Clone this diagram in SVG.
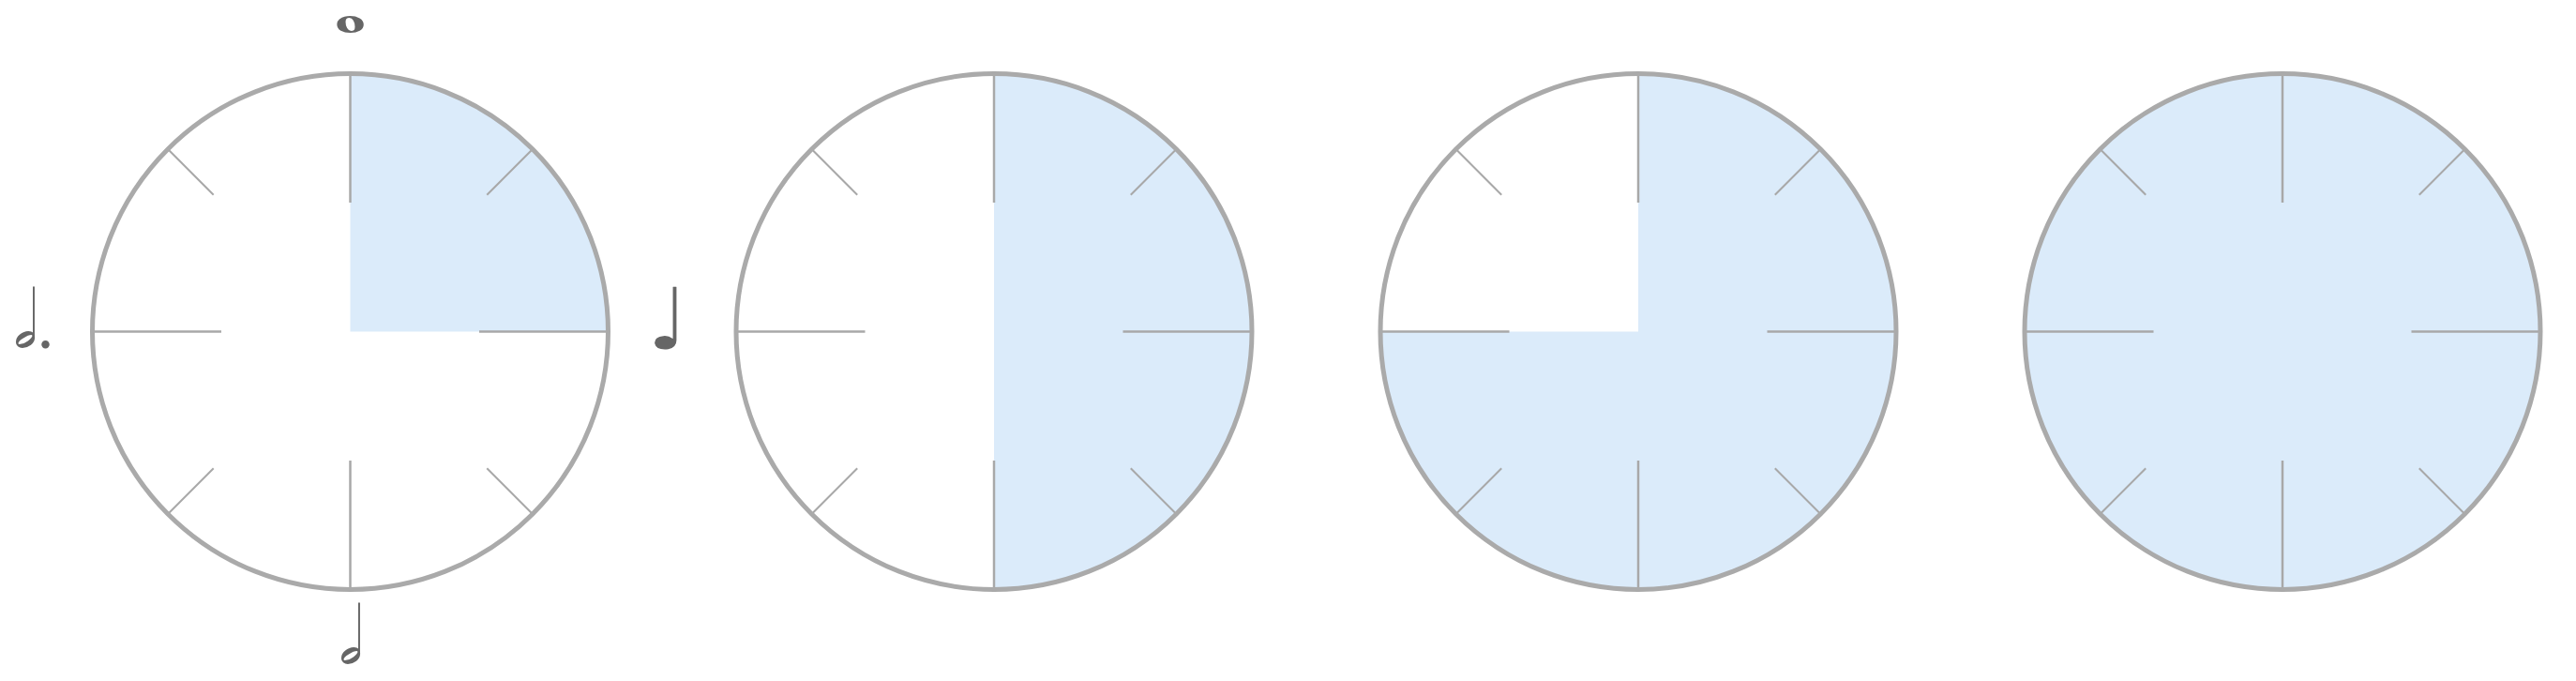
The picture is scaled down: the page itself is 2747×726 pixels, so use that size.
<svg xmlns="http://www.w3.org/2000/svg" xmlns:xlink="http://www.w3.org/1999/xlink" width="2747" height="726" viewBox="0 0 2747 726">
  <style>
    .fill { fill: #DBEBFA; stroke: none; }
    .tick { stroke: #A8A8A8; stroke-width: 2.5; fill: none; }
    .diag { stroke: #A8A8A8; stroke-width: 2; fill: none; }
    .ring { stroke: #AAAAAA; stroke-width: 5; fill: none; }
    .note { fill: #666666; font-family: "DejaVu Sans", "Noto Sans", sans-serif; text-anchor: middle; }
    .dot { font-family: "Liberation Serif", "DejaVu Serif", serif; }
  </style>
  <defs>
    <g id="ticks">
      <line class="tick" x1="0" y1="-275" x2="0" y2="-137.5"/>
      <line class="tick" x1="0" y1="137.5" x2="0" y2="275"/>
      <line class="tick" x1="-275" y1="0" x2="-137.5" y2="0"/>
      <line class="tick" x1="137.5" y1="0" x2="275" y2="0"/>
      <line class="diag" x1="-194.45" y1="-194.45" x2="-145.8" y2="-145.8"/>
      <line class="diag" x1="194.45" y1="-194.45" x2="145.8" y2="-145.8"/>
      <line class="diag" x1="-194.45" y1="194.45" x2="-145.8" y2="145.8"/>
      <line class="diag" x1="194.45" y1="194.45" x2="145.8" y2="145.8"/>
    </g>
    <circle id="ring" class="ring" cx="0" cy="0" r="275"/>
  </defs>

  <g id="clock1" transform="translate(373.5,353.5)">
    <path class="fill" d="M0,0 L0,-275 A275,275 0 0 1 275,0 Z"/>
    <use xlink:href="#ticks" href="#ticks"/>
    <use xlink:href="#ring" href="#ring"/>
  </g>
  <g id="clock2" transform="translate(1060,353.5)">
    <path class="fill" d="M0,-275 A275,275 0 0 1 0,275 Z"/>
    <use xlink:href="#ticks" href="#ticks"/>
    <use xlink:href="#ring" href="#ring"/>
  </g>
  <g id="clock3" transform="translate(1747,353.5)">
    <path class="fill" d="M0,0 L0,-275 A275,275 0 1 1 -275,0 Z"/>
    <use xlink:href="#ticks" href="#ticks"/>
    <use xlink:href="#ring" href="#ring"/>
  </g>
  <g id="clock4" transform="translate(2434,353.5)">
    <circle class="fill" cx="0" cy="0" r="275"/>
    <use xlink:href="#ticks" href="#ticks"/>
    <use xlink:href="#ring" href="#ring"/>
  </g>

  <g id="notes">
    <text id="note-whole" class="note" x="373.5" y="34" font-size="88">𝅝</text>
    <text id="note-dotted-half" class="note" x="27" y="370" font-size="84">𝅗𝅥<tspan class="dot" x="48.5" y="370.5" font-size="72">.</tspan></text>
    <text id="note-quarter" class="note" x="712" y="372" font-size="91">♩</text>
    <text id="note-half" class="note" x="374" y="707" font-size="84">𝅗𝅥</text>
  </g>
</svg>
